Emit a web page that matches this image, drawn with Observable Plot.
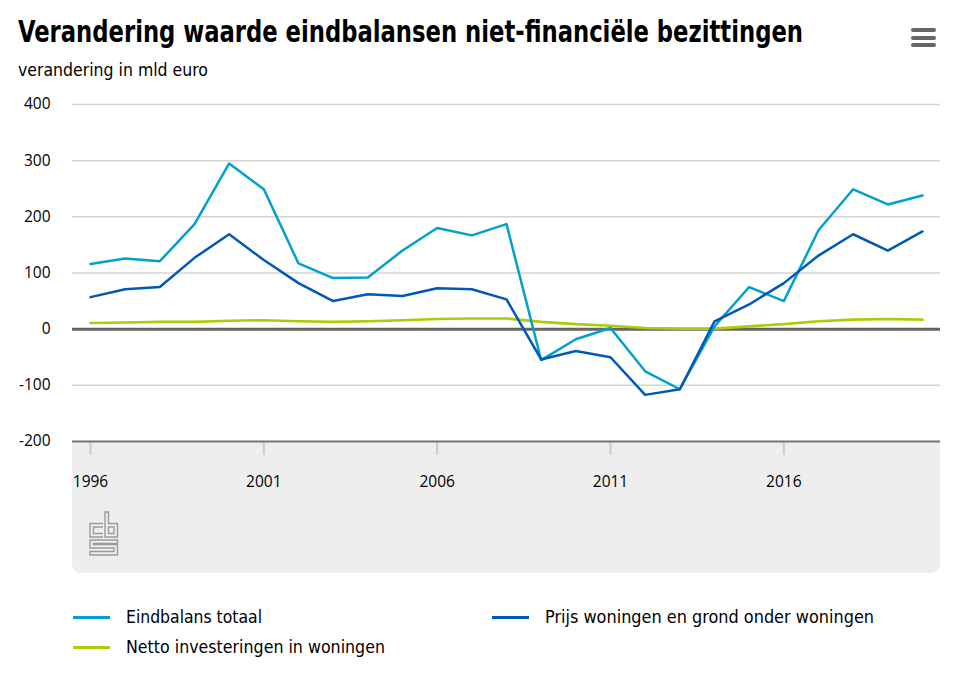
<!DOCTYPE html>
<html>
<head>
<meta charset="utf-8">
<script src="https://cdn.jsdelivr.net/npm/d3@7"></script>
<script src="https://cdn.jsdelivr.net/npm/@observablehq/plot@0.6"></script>
<style>
  html, body { margin: 0; padding: 0; background: #fff; }
  body { width: 973px; height: 681px; position: relative; overflow: hidden; font-family: "Liberation Sans Narrow", "DejaVu Sans Condensed", "Roboto", sans-serif; }
  .fit { position: absolute; white-space: nowrap; transform-origin: 0 50%; line-height: 1; }
  #title { left: 18px; top: 16px; font-size: 31px; font-weight: bold; color: #000; }
  #subtitle { left: 18px; top: 61px; font-size: 18px; color: #000; }
  #menu { position: absolute; left: 911px; top: 28px; width: 25px; }
  #menu div { height: 4px; border-radius: 2px; background: #666; margin-bottom: 3.7px; }
  #band { position: absolute; left: 72px; top: 441px; width: 868px; height: 132px; background: #eeeeee; border-radius: 0 0 9px 9px; }
  #chart { position: absolute; left: 0; top: 90px; }
  #logo { position: absolute; left: 89px; top: 511px; }
  .sw { position: absolute; height: 3px; width: 37px; }
  .lt { font-size: 18px; color: #000; }
</style>
</head>
<body>
<div id="title" class="fit">Verandering waarde eindbalansen niet-financiële bezittingen</div>
<div id="subtitle" class="fit">verandering in mld euro</div>
<div id="menu"><div></div><div></div><div></div></div>
<div id="band"></div>
<svg id="logo" width="30" height="45" viewBox="0 0 30 45">
  <g fill="none" stroke="#9a9a9a" stroke-width="1.4">
    <path d="M14,12.5 H1 V26 H14"/>
    <path d="M14,16 H4.5 V22.5 H14"/>
    <path d="M16,1 H19.5 V12.5 H28.5 V26 H16 Z"/>
    <rect x="19.5" y="16" width="5.5" height="6.5"/>
    <path d="M28.5,29 H1 V37 H25 V40.5 H1 V44 H28.5 V33.5 H4.5 V32.5 H28.5 Z"/>
  </g>
</svg>
<div id="chart"></div>

<div class="sw" style="left:73px; top:616px; background:#00a1cd;"></div>
<div id="l1" class="fit lt" style="left:126px; top:608px;">Eindbalans totaal</div>
<div class="sw" style="left:492px; top:616px; background:#0058b8;"></div>
<div id="l2" class="fit lt" style="left:545px; top:608px;">Prijs woningen en grond onder woningen</div>
<div class="sw" style="left:73px; top:646px; background:#afcb05;"></div>
<div id="l3" class="fit lt" style="left:126px; top:638px;">Netto investeringen in woningen</div>

<script>
// ---- data ----
const years = [1996,1997,1998,1999,2000,2001,2002,2003,2004,2005,2006,2007,2008,2009,2010,2011,2012,2013,2014,2015,2016,2017,2018,2019,2020];
const eindbalansTotaal = [116,126,121,187,295,249,117,91,92,140,180,167,187,-55,-18,2,-75,-107,5,75,50,176,249,222,238];
const prijsWoningen = [57,71,75,127,169,123,82,50,62,59,73,71,53,-54,-39,-50,-117,-107,14,44,82,131,169,140,174];
const nettoInvesteringen = [11,12,13,13,15,16,14,13,14,16,18,19,19,13,9,6,2,1,1,5,9,14,17,18,17];
const xTicks = [1996,2001,2006,2011,2016];
const yTicks = [-200,-100,0,100,200,300,400];
const seriesNames = ["Eindbalans totaal","Prijs woningen en grond onder woningen","Netto investeringen in woningen"];
const seriesColors = ["#00a1cd","#0058b8","#afcb05"];

const toRows = (vals) => years.map((y, i) => ({year: y, value: vals[i]}));
const rowsE = toRows(eindbalansTotaal);
const rowsP = toRows(prijsWoningen);
const rowsN = toRows(nettoInvesteringen);

const chart = Plot.plot({
  width: 973,
  height: 490,
  marginLeft: 72,
  marginRight: 33,
  marginTop: 14,
  marginBottom: 139,
  style: { background: "transparent", fontFamily: "'Open Sans', 'DejaVu Sans', sans-serif", fontSize: "15px", color: "#000" },
  x: { domain: [1996, 2020], range: [90, 922] },
  y: { domain: [-200, 400] },
  marks: [
    Plot.gridY(yTicks, { stroke: "#d4d4d4", strokeOpacity: 1, strokeWidth: 1.5 }),
    Plot.axisY(yTicks, { tickSize: 0, tickPadding: 22, fontSize: 15.5, tickFormat: d => String(d), label: null }),
    Plot.axisX(xTicks, { tickSize: 14, tickPadding: 20, stroke: "#cccccc", strokeWidth: 2, fontSize: 15.5, tickFormat: d => String(d), label: null }),
    Plot.ruleY([0], { stroke: "#666666", strokeWidth: 3 }),
    Plot.ruleY([-200], { stroke: "#777777", strokeWidth: 2 }),
    Plot.line(rowsN, { x: "year", y: "value", stroke: seriesColors[2], strokeWidth: 2.6 }),
    Plot.line(rowsE, { x: "year", y: "value", stroke: seriesColors[0], strokeWidth: 2.5 }),
    Plot.line(rowsP, { x: "year", y: "value", stroke: seriesColors[1], strokeWidth: 2.5 })
  ]
});
document.getElementById("chart").appendChild(chart);

// fit text widths horizontally (styling only)
function fit(id, w) {
  const el = document.getElementById(id);
  const cw = el.getBoundingClientRect().width;
  if (cw > 0) el.style.transform = `scaleX(${w / cw})`;
}
fit("title", 785);
fit("subtitle", 190);
fit("l1", 136);
fit("l2", 329);
fit("l3", 259);
</script>
</body>
</html>
